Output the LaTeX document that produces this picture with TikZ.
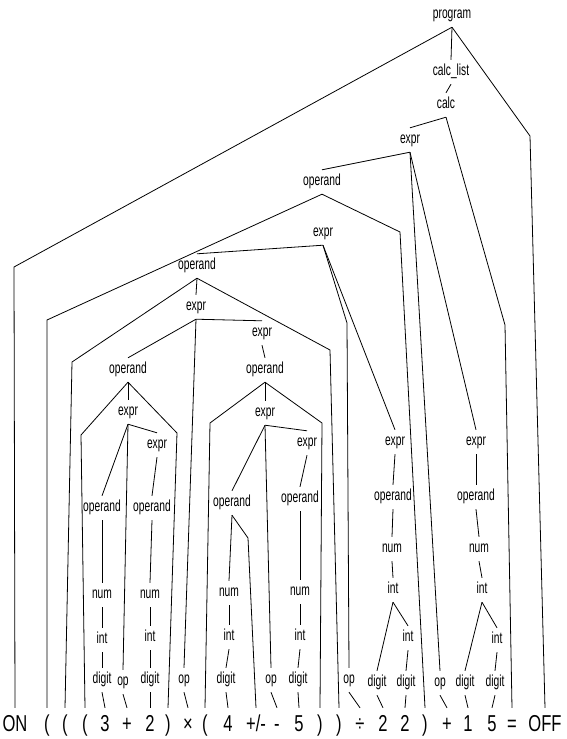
\documentclass[tikz,border=0pt]{standalone}
\usepackage{fontspec}
\newfontfamily\treefont[FakeStretch=0.72]{Liberation Sans}
\newfontfamily\symfont[FakeStretch=0.64]{Liberation Sans}
\usetikzlibrary{positioning}

\begin{document}
\begin{tikzpicture}[
  x=1pt, y=-1pt,
  sym/.style={font=\symfont\fontsize{16}{18}\selectfont, inner sep=0pt, text height=11pt, text depth=3.5pt, minimum height=24pt},
  tok/.style={font=\treefont\fontsize{23}{26}\selectfont, inner sep=0pt, anchor=base, text height=23pt, text depth=4pt},
  branch/.style={line width=0.8pt}
]
\useasboundingbox (0,0) rectangle (566,739);

% grammar symbols
\node[sym] (program) at (452,15) {program};
\node[sym] (calclist) at (451,72) {calc\_list};
\node[sym] (calc) at (446,105) {calc};
\node[sym] (expr1) at (410,140) {expr};
\node[sym] (operand1) at (322,182) {operand};
\node[sym] (expr2) at (323,233) {expr};
\node[sym] (operand2) at (197,266) {operand};
\node[sym] (expr3) at (196,307) {expr};
\node[sym] (expr4) at (262,333) {expr};
\node[sym] (operand3) at (128,370) {operand};
\node[sym] (operand4) at (265,370) {operand};
\node[sym] (expr5) at (128,412) {expr};
\node[sym] (expr6) at (157,445) {expr};
\node[sym] (operand5) at (102,508) {operand};
\node[sym] (operand6) at (152,508) {operand};
\node[sym] (num5) at (102,595) {num};
\node[sym] (int5) at (102,640) {int};
\node[sym] (digit5) at (102,680) {digit};
\node[sym] (op0) at (123,682) {op};
\node[sym] (num6) at (150,595) {num};
\node[sym] (int6) at (150,638) {int};
\node[sym] (digit6) at (150,680) {digit};
\node[sym] (op1) at (184,680) {op};
\node[sym] (expr7) at (265,413) {expr};
\node[sym] (expr8) at (307,443) {expr};
\node[sym] (operand7) at (232,503) {operand};
\node[sym] (operand8) at (300,499) {operand};
\node[sym] (num7) at (229,593) {num};
\node[sym] (int7) at (229,637) {int};
\node[sym] (digit7) at (226,680) {digit};
\node[sym] (op2) at (271,680) {op};
\node[sym] (num8) at (300,592) {num};
\node[sym] (int8) at (300,637) {int};
\node[sym] (digit8) at (298,680) {digit};
\node[sym] (op3) at (349,680) {op};
\node[sym] (expr9) at (395,442) {expr};
\node[sym] (operand9) at (393,497) {operand};
\node[sym] (num9) at (392,549) {num};
\node[sym] (int9) at (393,590) {int};
\node[sym] (int9b) at (408,638) {int};
\node[sym] (digit9a) at (377,683) {digit};
\node[sym] (digit9b) at (406,683) {digit};
\node[sym] (op4) at (440,683) {op};
\node[sym] (expr10) at (476,442) {expr};
\node[sym] (operand10) at (476,497) {operand};
\node[sym] (num10) at (479,549) {num};
\node[sym] (int10) at (482,590) {int};
\node[sym] (int10b) at (497,640) {int};
\node[sym] (digit10a) at (465,683) {digit};
\node[sym] (digit10b) at (495,683) {digit};

% input tokens
\node[tok] (on) at (15,731) {ON};
\node[tok] (lpA) at (47,731) {(};
\node[tok] (lpB) at (65,731) {(};
\node[tok] (lpC) at (85,731) {(};
\node[tok] (three) at (105,731) {3};
\node[tok] (plusA) at (127,731) {+};
\node[tok] (two) at (150,731) {2};
\node[tok] (rpC) at (168,731) {)};
\node[tok] (times) at (188,731) {×};
\node[tok] (lpD) at (205,731) {(};
\node[tok] (four) at (228,731) {4};
\node[tok] (negate) at (256,731) {+/-};
\node[tok] (minus) at (277,731) {-};
\node[tok] (five) at (299,731) {5};
\node[tok] (rpD) at (320,731) {)};
\node[tok] (rpB) at (339,731) {)};
\node[tok] (div) at (360,731) {÷};
\node[tok] (twoA) at (383,731) {2};
\node[tok] (twoB) at (405,731) {2};
\node[tok] (rpA) at (425,731) {)};
\node[tok] (plusB) at (447,731) {+};
\node[tok] (one) at (468,731) {1};
\node[tok] (fiveB) at (492,731) {5};
\node[tok] (eq) at (512,731) {=};
\node[tok] (off) at (545,731) {OFF};

% top of the tree
\draw[branch] (program.south) -- (14,267) -- (on.north);
\draw[branch] (program.south) -- (calclist.north);
\draw[branch] (program.south) -- (530,136) -- (off.north);
\draw[branch] (calclist.south) -- (calc.north);
\draw[branch] (calc.south) -- (expr1.north);
\draw[branch] (calc.south) -- (505,325) -- (eq.north);
\draw[branch] (expr1.south) -- (operand1.north);
\draw[branch] (expr1.south) -- (op4.north);
\draw[branch] (expr1.south) -- (expr10.north);
\draw[branch] (operand1.south) -- (47,320) -- (lpA.north);
\draw[branch] (operand1.south) -- (400,232) -- (rpA.north);
\draw[branch] (expr2.south) -- (operand2.north);
\draw[branch] (expr2.south) -- (347,323) -- (op3.north);
\draw[branch] (expr2.south) -- (expr9.north);
\draw[branch] (operand2.south) -- (72,362) -- (lpB.north);
\draw[branch] (operand2.south) -- (expr3.north);
\draw[branch] (operand2.south) -- (330,350) -- (rpB.north);
\draw[branch] (expr3.south) -- (operand3.north);
\draw[branch] (expr3.south) -- (op1.north);
\draw[branch] (expr3.south) -- (expr4.north);
\draw[branch] (expr4.south) -- (operand4.north);

% ( 3 + 2 )
\draw[branch] (operand3.south) -- (81,435) -- (lpC.north);
\draw[branch] (operand3.south) -- (expr5.north);
\draw[branch] (operand3.south) -- (177,433) -- (rpC.north);
\draw[branch] (expr5.south) -- (operand5.north);
\draw[branch] (expr5.south) -- (op0.north);
\draw[branch] (expr5.south) -- (expr6.north);
\draw[branch] (expr6.south) -- (operand6.north);
\draw[branch] (operand5.south) -- (num5.north);
\draw[branch] (num5.south) -- (int5.north);
\draw[branch] (int5.south) -- (digit5.north);
\draw[branch] (digit5.south) -- (three.north);
\draw[branch] (op0.south) -- (plusA.north);
\draw[branch] (operand6.south) -- (num6.north);
\draw[branch] (num6.south) -- (int6.north);
\draw[branch] (int6.south) -- (digit6.north);
\draw[branch] (digit6.south) -- (two.north);
\draw[branch] (op1.south) -- (times.north);

% ( 4 +/- - 5 )
\draw[branch] (operand4.south) -- (210,423) -- (lpD.north);
\draw[branch] (operand4.south) -- (expr7.north);
\draw[branch] (operand4.south) -- (322,423) -- (rpD.north);
\draw[branch] (expr7.south) -- (operand7.north);
\draw[branch] (expr7.south) -- (op2.north);
\draw[branch] (expr7.south) -- (expr8.north);
\draw[branch] (expr8.south) -- (operand8.north);
\draw[branch] (operand7.south) -- (num7.north);
\draw[branch] (operand7.south) -- (248,538) -- (negate.north);
\draw[branch] (num7.south) -- (int7.north);
\draw[branch] (int7.south) -- (digit7.north);
\draw[branch] (digit7.south) -- (four.north);
\draw[branch] (op2.south) -- (minus.north);
\draw[branch] (operand8.south) -- (num8.north);
\draw[branch] (num8.south) -- (int8.north);
\draw[branch] (int8.south) -- (digit8.north);
\draw[branch] (digit8.south) -- (five.north);

% ÷ 22 and + 15
\draw[branch] (op3.south) -- (div.north);
\draw[branch] (expr9.south) -- (operand9.north);
\draw[branch] (operand9.south) -- (num9.north);
\draw[branch] (num9.south) -- (int9.north);
\draw[branch] (int9.south) -- (digit9a.north);
\draw[branch] (int9.south) -- (int9b.north);
\draw[branch] (int9b.south) -- (digit9b.north);
\draw[branch] (digit9a.south) -- (twoA.north);
\draw[branch] (digit9b.south) -- (twoB.north);
\draw[branch] (op4.south) -- (plusB.north);
\draw[branch] (expr10.south) -- (operand10.north);
\draw[branch] (operand10.south) -- (num10.north);
\draw[branch] (num10.south) -- (int10.north);
\draw[branch] (int10.south) -- (digit10a.north);
\draw[branch] (int10.south) -- (int10b.north);
\draw[branch] (int10b.south) -- (digit10b.north);
\draw[branch] (digit10a.south) -- (one.north);
\draw[branch] (digit10b.south) -- (fiveB.north);
\end{tikzpicture}
\end{document}
